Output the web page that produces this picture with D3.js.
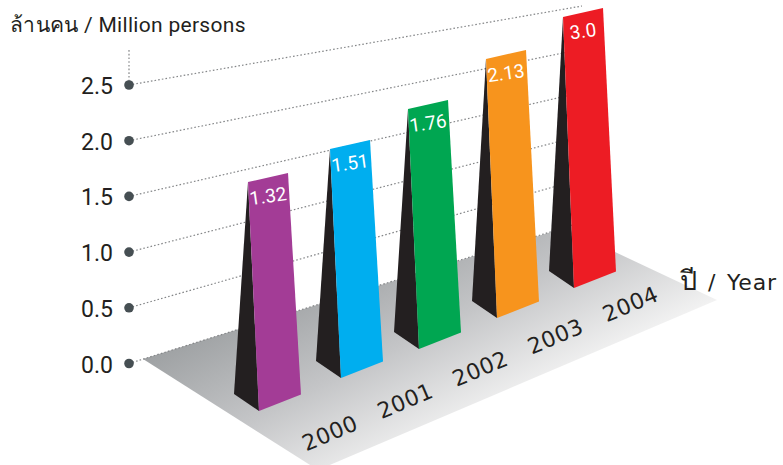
<!DOCTYPE html>
<html><head><meta charset="utf-8">
<script src="https://cdn.jsdelivr.net/npm/d3@7"></script>
<style>
html,body{margin:0;padding:0;background:#fff}
svg{display:block}
text{font-family:Roboto,"Noto Sans",sans-serif;fill:#231f20}
.wide{font-family:"DejaVu Sans",Roboto,sans-serif}
</style></head><body>
<svg id="c" width="783" height="465"></svg>
<script>
const years=[2000,2001,2002,2003,2004];
const values=[1.32,1.51,1.76,2.13,3.0];
const valueLabels=["1.32","1.51","1.76","2.13","3.0"];
const barColors=["#a33c96","#00aeef","#00a651","#f7941d","#ed1c24"];
const ticks=[0,0.5,1,1.5,2,2.5];
const yTitle="ล้านคน / Million persons";
const xTitleParts=["ปี ","/ ","Year"];

const svg=d3.select("#c");
const defs=svg.append("defs");
const grad=defs.append("linearGradient").attr("id","floor").attr("gradientUnits","userSpaceOnUse")
  .attr("x1",143).attr("y1",359).attr("x2",235).attr("y2",543);
grad.append("stop").attr("offset",0).attr("stop-color","#9ea1a3");
grad.append("stop").attr("offset",0.5).attr("stop-color","#c4c5c7");
grad.append("stop").attr("offset",1).attr("stop-color","#f3f3f3");

const yNear=d3.scaleLinear().domain([0,2.5]).range([363.5,85]);
const yFar=d3.scaleLinear().domain([0,2.5]).range([222,6]);
const wallX=d3.scaleLinear().domain([0,1]).range([129,582]);
const baseX=d3.scaleLinear().domain(years).range([259,341,419,497,574]);
const baseY=d3.scaleLinear().domain(years).range([411,378,349,318,288]);
// The drawing's bars are not proportional to the wall's axis: this scale follows the picture.
const barH=d3.scaleLinear().domain(values).range([229,229,240,259,271]);

svg.append("path").attr("d",d3.line()([[143,359],[564,228],[717,300],[318,470]])+"Z").attr("fill","url(#floor)");

svg.append("g").selectAll("line").data(ticks).join("line")
  .attr("x1",wallX(0)).attr("y1",d=>yNear(d)).attr("x2",wallX(1)).attr("y2",d=>yFar(d))
  .attr("stroke","#858789").attr("stroke-width",1.2).attr("stroke-dasharray","1.6 2.1");
svg.append("line").attr("x1",wallX(0)).attr("x2",wallX(0)).attr("y1",yNear(2.5)).attr("y2",50)
  .attr("stroke","#858789").attr("stroke-width",1.2).attr("stroke-dasharray","1.6 2.1");
svg.append("g").selectAll("circle").data(ticks).join("circle")
  .attr("cx",wallX(0)).attr("cy",d=>yNear(d)).attr("r",4.8).attr("fill","#464f53");
svg.append("g").selectAll("text").data(ticks).join("text")
  .attr("x",113).attr("y",d=>yNear(d)+9).attr("text-anchor","end")
  .attr("font-size",23).text(d=>d.toFixed(1));

const rows=years.map((y,i)=>({y,v:values[i],c:barColors[i],l:valueLabels[i]}));
const bars=svg.append("g").selectAll("g").data(rows).join("g");
const line=d3.line();
bars.append("path").attr("fill","#231f20").attr("d",d=>{
  const x=baseX(d.y),b=baseY(d.y),t=b-barH(d.v);
  return line([[x-11,t],[x-25,b-17],[x,b]])+"Z";});
bars.append("path").attr("fill",d=>d.c).attr("d",d=>{
  const x=baseX(d.y),b=baseY(d.y),t=b-barH(d.v);
  return line([[x-11,t],[x+29,t-9],[x+42,b-16.5],[x,b]])+"Z";});
bars.append("text").attr("text-anchor","middle").attr("font-size",19).style("fill","#fff")
  .attr("transform",d=>`translate(${baseX(d.y)+9},${baseY(d.y)-barH(d.v)+14}) rotate(-8)`)
  .attr("dy","0.35em").text(d=>d.l);

const labX=d3.scaleLinear().domain([2000,2004]).range([330,630.5]);
const labY=d3.scaleLinear().domain([2000,2004]).range([433,304]);
svg.append("g").selectAll("text").data(years).join("text").attr("class","wide")
  .attr("text-anchor","middle").attr("font-size",22).attr("letter-spacing",0.5)
  .attr("dy","0.35em")
  .attr("transform",d=>`translate(${labX(d)},${labY(d)}) rotate(-23)`).text(d=>d);

svg.append("text").attr("x",10).attr("y",32).attr("font-size",21).attr("letter-spacing",0.3).text(yTitle);
const xt=svg.append("text").attr("class","wide").attr("y",290);
xt.append("tspan").attr("x",680).attr("font-size",27).text(xTitleParts[0]);
xt.append("tspan").attr("x",708).attr("font-size",22).text(xTitleParts[1]);
xt.append("tspan").attr("x",727).attr("font-size",22).attr("letter-spacing",0.8).text(xTitleParts[2]);
</script></body></html>
